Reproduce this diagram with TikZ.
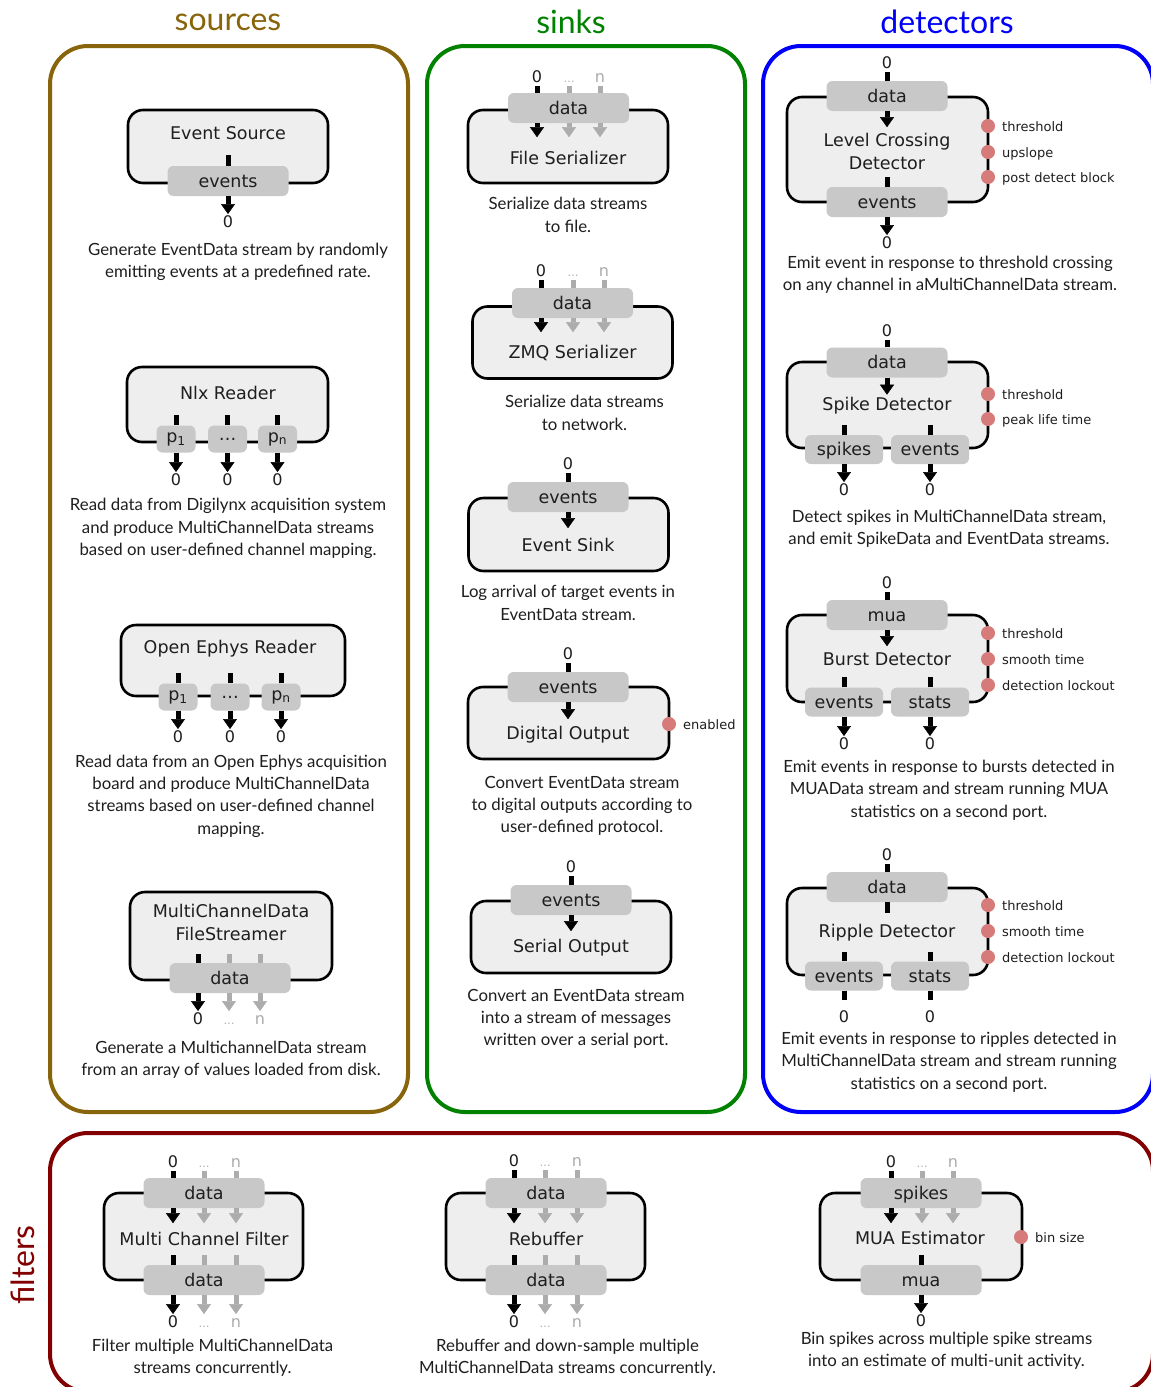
\documentclass[tikz,border=0pt]{standalone}
\usepackage{fontspec}
\usetikzlibrary{arrows.meta}
\newfontfamily\fDejaVu{DejaVu Sans}
\newfontfamily\fLato{Lato}
\newcommand\fLbl{\fDejaVu\fontsize{17.5}{23}\selectfont}
\newcommand\fPrm{\fDejaVu\fontsize{13}{15}\selectfont}
\newcommand\fNum{\fDejaVu\fontsize{16}{18}\selectfont}
\newcommand\fDots{\fDejaVu\fontsize{11}{12}\selectfont}
\newcommand\fDesc{\fLato\fontsize{16.8}{22.3}\selectfont}
\newcommand\fTtl{\fLato\fontsize{32}{36}\selectfont}
\definecolor{csrc}{RGB}{136,100,10}
\definecolor{csnk}{RGB}{0,130,0}
\definecolor{cdet}{RGB}{0,0,250}
\definecolor{cflt}{RGB}{130,0,0}
\definecolor{ink}{RGB}{30,30,30}
\definecolor{ghost}{RGB}{172,172,172}
\definecolor{blockfill}{RGB}{238,238,238}
\definecolor{portfill}{RGB}{200,200,200}
\definecolor{knob}{RGB}{214,122,122}
\tikzset{
  blk/.style={draw=black, line width=2.6pt, fill=blockfill, rounded corners=15pt, inner sep=0pt},
  lbl/.style={font=\fLbl, text=ink, inner sep=0pt, align=center},
  prt/.style={fill=portfill, rounded corners=6pt, inner sep=0pt, font=\fLbl, text=ink},
  wideport/.style={prt, minimum width=121pt, minimum height=30pt, text height=12.5pt, text depth=0pt},
  midport/.style={prt, minimum width=78pt, minimum height=29pt, text height=12.5pt, text depth=0pt},
  slimport/.style={prt, minimum width=39pt, minimum height=27pt},
  num/.style={font=\fNum, text=ink, inner sep=0pt, text height=11.5pt, text depth=0pt},
  numghost/.style={num, text=ghost},
  dotsghost/.style={num, font=\fDots, text=ghost},
  barb/.style={line width=5pt, draw=black},
  barg/.style={line width=5pt, draw=ghost},
  arrb/.style={line width=5pt, draw=black, -{Triangle[width=14pt,length=10pt,line width=0.5pt]}},
  arrg/.style={arrb, draw=ghost},
  tonum/.style={shorten >=2pt},
  knobdot/.style={circle, fill=knob, minimum size=14pt, inner sep=0pt},
  knoblbl/.style={font=\fPrm, text=ink, anchor=west, inner sep=0pt, text height=11pt, text depth=0pt},
  desc/.style={font=\fDesc, text=ink, align=center, inner sep=0pt},
  panel/.style={line width=4pt, rounded corners=38pt},
  ttl/.style={font=\fTtl, inner sep=0pt},
}
\begin{document}
\begin{tikzpicture}[x=1pt,y=-1pt]
\useasboundingbox (0,0) rectangle (1151,1387);
\fill[white] (0,0) rectangle (1151,1387);

% ---------- group frames and headings ----------
\draw[panel, draw=csrc] (50,46) rectangle (408,1112);
\draw[panel, draw=csnk] (427,46) rectangle (745,1112);
\draw[panel, draw=cdet] (763,46) rectangle (1153,1112);
\draw[panel, draw=cflt] (50,1133) rectangle (1153,1392);
\node[ttl, text=csrc] (t-src) at (228,22) {sources};
\node[ttl, text=csnk] (t-snk) at (571,22) {sinks};
\node[ttl, text=cdet] (t-det) at (947,22) {detectors};
\node[ttl, text=cflt, rotate=90] (t-flt) at (23,1265) {filters};

% ================= sources =================
% Event Source
\node[blk, minimum width=200pt, minimum height=73pt] (es) at (228,146.5) {};
\node[lbl] (es-l) at (228,133) {Event Source};
\node[wideport] (es-p) at (228,181) {events};
\node[num] (es-o) at (228,222) {0};
\draw[barb] (es-p.north) -- ++(0,-11);
\draw[arrb, tonum] (es-p) -- (es-o);
\node[desc] (es-d) at (238,262) {Generate EventData stream by randomly\\emitting events at a predefined rate.};

% Nlx Reader
\node[blk, minimum width=201pt, minimum height=75pt] (nlx) at (227.5,404.5) {};
\node[lbl] (nlx-l) at (228,393) {Nlx Reader};
\node[slimport] (nlx-p1) at (176,439) {p\textsubscript{1}};
\node[slimport] (nlx-p2) at (227.5,439) {…};
\node[slimport] (nlx-p3) at (277.5,439) {p\textsubscript{n}};
\node[num] (nlx-o1) at (176,480) {0};
\node[num] (nlx-o2) at (227.5,480) {0};
\node[num] (nlx-o3) at (277.5,480) {0};
\foreach \i in {1,2,3} {
  \draw[barb] (nlx-p\i.north) -- ++(0,-10);
  \draw[arrb, tonum] (nlx-p\i) -- (nlx-o\i);
}
\node[desc] (nlx-d) at (228,528.5) {Read data from Digilynx acquisition system\\and produce MultiChannelData streams\\based on user-defined channel mapping.};

% Open Ephys Reader
\node[blk, minimum width=224pt, minimum height=71pt] (oe) at (233,660.5) {};
\node[lbl] (oe-l) at (230,649) {Open Ephys Reader};
\node[slimport] (oe-p1) at (178,697) {p\textsubscript{1}};
\node[slimport] (oe-p2) at (230,697) {…};
\node[slimport] (oe-p3) at (281,697) {p\textsubscript{n}};
\node[num] (oe-o1) at (178,737) {0};
\node[num] (oe-o2) at (230,737) {0};
\node[num] (oe-o3) at (281,737) {0};
\foreach \i in {1,2,3} {
  \draw[barb] (oe-p\i.north) -- ++(0,-10);
  \draw[arrb, tonum] (oe-p\i) -- (oe-o\i);
}
\node[desc] (oe-d) at (231,796) {Read data from an Open Ephys acquisition\\board and produce MultiChannelData\\streams based on user-defined channel\\mapping.};

% MultiChannelData FileStreamer
\node[blk, minimum width=202pt, minimum height=88pt] (fs) at (231,936) {};
\node[lbl] (fs-l) at (231,922.5) {MultiChannelData\\FileStreamer};
\node[wideport] (fs-p) at (230,978) {data};
\node[num] (fs-o0) at (198,1019) {0};
\node[dotsghost] (fs-o1) at (229,1019) {…};
\node[numghost] (fs-o2) at (260,1019) {n};
\draw[barb] (fs-p.north -| fs-o0) -- ++(0,-9);
\draw[barg] (fs-p.north -| fs-o1) -- ++(0,-9);
\draw[barg] (fs-p.north -| fs-o2) -- ++(0,-9);
\draw[arrb, tonum] (fs-p.south -| fs-o0) -- (fs-o0.north);
\draw[arrg, tonum] (fs-p.south -| fs-o1) -- (fs-o1.north);
\draw[arrg, tonum] (fs-p.south -| fs-o2) -- (fs-o2.north);
\node[desc] (fs-d) at (231,1060) {Generate a MultichannelData stream\\from an array of values loaded from disk.};

% ================= sinks =================
% File Serializer
\node[blk, minimum width=200pt, minimum height=73pt] (fsz) at (568,146.5) {};
\node[lbl] (fsz-l) at (568,158) {File Serializer};
\node[wideport] (fsz-p) at (568.5,108) {data};
\node[num] (fsz-i0) at (537,77) {0};
\node[dotsghost] (fsz-i1) at (569,77) {…};
\node[numghost] (fsz-i2) at (600,77) {n};
\draw[barb] ([yshift=-3pt]fsz-i0.south) -- (fsz-i0 |- fsz-p.north);
\draw[barg] ([yshift=-3pt]fsz-i1.south) -- (fsz-i1 |- fsz-p.north);
\draw[barg] ([yshift=-3pt]fsz-i2.south) -- (fsz-i2 |- fsz-p.north);
\draw[arrb] (fsz-p.south -| fsz-i0) -- ++(0,14);
\draw[arrg] (fsz-p.south -| fsz-i1) -- ++(0,14);
\draw[arrg] (fsz-p.south -| fsz-i2) -- ++(0,14);
\node[desc] (fsz-d) at (568,215) {Serialize data streams\\to file.};

% ZMQ Serializer
\node[blk, minimum width=200pt, minimum height=72pt] (zmq) at (572.5,342.5) {};
\node[lbl] (zmq-l) at (572.5,353) {ZMQ Serializer};
\node[wideport] (zmq-p) at (572.5,303) {data};
\node[num] (zmq-i0) at (541,271) {0};
\node[dotsghost] (zmq-i1) at (573,271) {…};
\node[numghost] (zmq-i2) at (604,271) {n};
\draw[barb] ([yshift=-3pt]zmq-i0.south) -- (zmq-i0 |- zmq-p.north);
\draw[barg] ([yshift=-3pt]zmq-i1.south) -- (zmq-i1 |- zmq-p.north);
\draw[barg] ([yshift=-3pt]zmq-i2.south) -- (zmq-i2 |- zmq-p.north);
\draw[arrb] (zmq-p.south -| zmq-i0) -- ++(0,14);
\draw[arrg] (zmq-p.south -| zmq-i1) -- ++(0,14);
\draw[arrg] (zmq-p.south -| zmq-i2) -- ++(0,14);
\node[desc] (zmq-d) at (584.5,413) {Serialize data streams\\to network.};

% Event Sink
\node[blk, minimum width=200pt, minimum height=73pt] (esk) at (568.5,534.5) {};
\node[lbl] (esk-l) at (568,545) {Event Sink};
\node[wideport] (esk-p) at (568,497) {events};
\node[num] (esk-i) at (568,464) {0};
\draw[barb] ([yshift=-3pt]esk-i.south) -- (esk-p.north);
\draw[arrb] (esk-p.south) -- ++(0,16);
\node[desc] (esk-d) at (568,603) {Log arrival of target events in\\EventData stream.};

% Digital Output
\node[blk, minimum width=201pt, minimum height=72pt] (dout) at (568.5,723) {};
\node[lbl] (dout-l) at (568,735) {Digital Output};
\node[wideport] (dout-p) at (568,687) {events};
\node[num] (dout-i) at (568,654) {0};
\draw[barb] ([yshift=-3pt]dout-i.south) -- (dout-p.north);
\draw[arrb] (dout-p.south) -- ++(0,17);
\node[knobdot] (dout-k) at (669,724) {};
\node[knoblbl] (dout-kl) at (683,724) {enabled};
\node[desc] (dout-d) at (582,806) {Convert EventData stream\\to digital outputs according to\\user-defined protocol.};

% Serial Output
\node[blk, minimum width=200pt, minimum height=72pt] (sout) at (571,937) {};
\node[lbl] (sout-l) at (571,948) {Serial Output};
\node[wideport] (sout-p) at (571,900) {events};
\node[num] (sout-i) at (571,867) {0};
\draw[barb] ([yshift=-3pt]sout-i.south) -- (sout-p.north);
\draw[arrb] (sout-p.south) -- ++(0,16);
\node[desc] (sout-d) at (576,1019) {Convert an EventData stream\\into a stream of messages\\written over a serial port.};

% ================= detectors =================
% Level Crossing Detector
\node[blk, minimum width=201pt, minimum height=105pt] (lcd) at (887.5,149.5) {};
\node[lbl] (lcd-l) at (887,151.5) {Level Crossing\\Detector};
\node[wideport] (lcd-pi) at (887,96) {data};
\node[wideport] (lcd-po) at (887,202) {events};
\node[num] (lcd-i) at (887,63) {0};
\node[num] (lcd-o) at (887,243) {0};
\draw[barb] ([yshift=-3pt]lcd-i.south) -- (lcd-pi.north);
\draw[arrb] (lcd-pi.south) -- ++(0,16);
\draw[barb] (lcd-po.north) -- ++(0,-10);
\draw[arrb, tonum] (lcd-po) -- (lcd-o);
\node[knobdot] (lcd-k1) at (988,126) {};
\node[knobdot] (lcd-k2) at (988,152) {};
\node[knobdot] (lcd-k3) at (988,177) {};
\node[knoblbl] (lcd-k1l) at (1002,126) {threshold};
\node[knoblbl] (lcd-k2l) at (1002,152) {upslope};
\node[knoblbl] (lcd-k3l) at (1002,177) {post detect block};
\node[desc] (lcd-d) at (950,274.5) {Emit event in response to threshold crossing\\on any channel in aMultiChannelData stream.};

% Spike Detector
\node[blk, minimum width=201pt, minimum height=86pt] (sd) at (887.5,405) {};
\node[lbl] (sd-l) at (887,406) {Spike Detector};
\node[wideport] (sd-pi) at (887,362.5) {data};
\node[num] (sd-i) at (887,331) {0};
\node[midport] (sd-p1) at (844,449.5) {spikes};
\node[midport] (sd-p2) at (930,449.5) {events};
\node[num] (sd-o1) at (844,490) {0};
\node[num] (sd-o2) at (930,490) {0};
\draw[barb] ([yshift=-3pt]sd-i.south) -- (sd-pi.north);
\draw[arrb] (sd-pi.south) -- ++(0,17);
\foreach \i in {1,2} {
  \draw[barb] (sd-p\i.north) -- ++(0,-10);
  \draw[arrb, tonum] (sd-p\i) -- (sd-o\i);
}
\node[knobdot] (sd-k1) at (988,394) {};
\node[knobdot] (sd-k2) at (988,419) {};
\node[knoblbl] (sd-k1l) at (1002,394) {threshold};
\node[knoblbl] (sd-k2l) at (1002,419) {peak life time};
\node[desc] (sd-d) at (949,529) {Detect spikes in MultiChannelData stream,\\and emit SpikeData and EventData streams.};

% Burst Detector
\node[blk, minimum width=201pt, minimum height=87pt] (bd) at (887.5,658.5) {};
\node[lbl] (bd-l) at (887,659) {Burst Detector};
\node[wideport] (bd-pi) at (887,615) {mua};
\node[num] (bd-i) at (887,583) {0};
\node[midport] (bd-p1) at (844,702) {events};
\node[midport] (bd-p2) at (930,702) {stats};
\node[num] (bd-o1) at (844,744) {0};
\node[num] (bd-o2) at (930,744) {0};
\draw[barb] ([yshift=-3pt]bd-i.south) -- (bd-pi.north);
\draw[arrb] (bd-pi.south) -- ++(0,16);
\foreach \i in {1,2} {
  \draw[barb] (bd-p\i.north) -- ++(0,-10);
  \draw[arrb, tonum] (bd-p\i) -- (bd-o\i);
}
\node[knobdot] (bd-k1) at (988,633) {};
\node[knobdot] (bd-k2) at (988,659) {};
\node[knobdot] (bd-k3) at (988,685) {};
\node[knoblbl] (bd-k1l) at (1002,633) {threshold};
\node[knoblbl] (bd-k2l) at (1002,659) {smooth time};
\node[knoblbl] (bd-k3l) at (1002,685) {detection lockout};
\node[desc] (bd-d) at (949,790) {Emit events in response to bursts detected in\\MUAData stream and stream running MUA\\statistics on a second port.};

% Ripple Detector
\node[blk, minimum width=201pt, minimum height=87pt] (rd) at (887.5,931.5) {};
\node[lbl] (rd-l) at (887,933) {Ripple Detector};
\node[wideport] (rd-pi) at (887,887) {data};
\node[num] (rd-i) at (887,855) {0};
\node[midport] (rd-p1) at (844,976) {events};
\node[midport] (rd-p2) at (930,976) {stats};
\node[num] (rd-o1) at (844,1017) {0};
\node[num] (rd-o2) at (930,1017) {0};
\draw[barb] ([yshift=-3pt]rd-i.south) -- (rd-pi.north);
\draw[barb] (rd-pi.south) -- ++(0,11);
\foreach \i in {1,2} {
  \draw[barb] (rd-p\i.north) -- ++(0,-9);
  \draw[barb] (rd-p\i.south) -- ++(0,9);
}
\node[knobdot] (rd-k1) at (988,905) {};
\node[knobdot] (rd-k2) at (988,931) {};
\node[knobdot] (rd-k3) at (988,957) {};
\node[knoblbl] (rd-k1l) at (1002,905) {threshold};
\node[knoblbl] (rd-k2l) at (1002,931) {smooth time};
\node[knoblbl] (rd-k3l) at (1002,957) {detection lockout};
\node[desc] (rd-d) at (949,1062) {Emit events in response to ripples detected in\\MultiChannelData stream and stream running\\statistics on a second port.};

% ================= filters =================
% Multi Channel Filter
\node[blk, minimum width=199pt, minimum height=87pt] (mcf) at (203.5,1236.5) {};
\node[lbl] (mcf-l) at (204,1239) {Multi Channel Filter};
\node[wideport] (mcf-pi) at (204,1193) {data};
\node[wideport] (mcf-po) at (204,1280) {data};
\node[num] (mcf-i0) at (173,1162) {0};
\node[dotsghost] (mcf-i1) at (204,1162) {…};
\node[numghost] (mcf-i2) at (236,1162) {n};
\node[num] (mcf-o0) at (173,1322) {0};
\node[dotsghost] (mcf-o1) at (204,1322) {…};
\node[numghost] (mcf-o2) at (236,1322) {n};
\draw[barb] ([yshift=-3pt]mcf-i0.south) -- (mcf-i0 |- mcf-pi.north);
\draw[barg] ([yshift=-3pt]mcf-i1.south) -- (mcf-i1 |- mcf-pi.north);
\draw[barg] ([yshift=-3pt]mcf-i2.south) -- (mcf-i2 |- mcf-pi.north);
\draw[arrb] (mcf-pi.south -| mcf-i0) -- ++(0,15);
\draw[arrg] (mcf-pi.south -| mcf-i1) -- ++(0,15);
\draw[arrg] (mcf-pi.south -| mcf-i2) -- ++(0,15);
\draw[barb] (mcf-po.north -| mcf-o0) -- ++(0,-10);
\draw[barg] (mcf-po.north -| mcf-o1) -- ++(0,-10);
\draw[barg] (mcf-po.north -| mcf-o2) -- ++(0,-10);
\draw[arrb, tonum] (mcf-po.south -| mcf-o0) -- (mcf-o0.north);
\draw[arrg, tonum] (mcf-po.south -| mcf-o1) -- (mcf-o1.north);
\draw[arrg, tonum] (mcf-po.south -| mcf-o2) -- (mcf-o2.north);
\node[desc] (mcf-d) at (212.5,1358) {Filter multiple MultiChannelData\\streams concurrently.};

% Rebuffer
\node[blk, minimum width=199pt, minimum height=87pt] (rb) at (545.5,1236.5) {};
\node[lbl] (rb-l) at (546,1239) {Rebuffer};
\node[wideport] (rb-pi) at (546,1193) {data};
\node[wideport] (rb-po) at (546,1280) {data};
\node[num] (rb-i0) at (514,1161) {0};
\node[dotsghost] (rb-i1) at (545,1161) {…};
\node[numghost] (rb-i2) at (577,1161) {n};
\node[num] (rb-o0) at (514,1322) {0};
\node[dotsghost] (rb-o1) at (545,1322) {…};
\node[numghost] (rb-o2) at (577,1322) {n};
\draw[barb] ([yshift=-3pt]rb-i0.south) -- (rb-i0 |- rb-pi.north);
\draw[barg] ([yshift=-3pt]rb-i1.south) -- (rb-i1 |- rb-pi.north);
\draw[barg] ([yshift=-3pt]rb-i2.south) -- (rb-i2 |- rb-pi.north);
\draw[arrb] (rb-pi.south -| rb-i0) -- ++(0,15);
\draw[arrg] (rb-pi.south -| rb-i1) -- ++(0,15);
\draw[arrg] (rb-pi.south -| rb-i2) -- ++(0,15);
\draw[barb] (rb-po.north -| rb-o0) -- ++(0,-10);
\draw[barg] (rb-po.north -| rb-o1) -- ++(0,-10);
\draw[barg] (rb-po.north -| rb-o2) -- ++(0,-10);
\draw[arrb, tonum] (rb-po.south -| rb-o0) -- (rb-o0.north);
\draw[arrg, tonum] (rb-po.south -| rb-o1) -- (rb-o1.north);
\draw[arrg, tonum] (rb-po.south -| rb-o2) -- (rb-o2.north);
\node[desc] (rb-d) at (567.5,1358) {Rebuffer and down-sample multiple\\MultiChannelData streams concurrently.};

% MUA Estimator
\node[blk, minimum width=202pt, minimum height=87pt] (mua) at (921,1236.5) {};
\node[lbl] (mua-l) at (920,1238) {MUA Estimator};
\node[wideport] (mua-pi) at (921,1193) {spikes};
\node[wideport] (mua-po) at (921,1280) {mua};
\node[num] (mua-i0) at (891,1162) {0};
\node[dotsghost] (mua-i1) at (922,1162) {…};
\node[numghost] (mua-i2) at (953,1162) {n};
\node[num] (mua-o) at (921,1321) {0};
\draw[barb] ([yshift=-3pt]mua-i0.south) -- (mua-i0 |- mua-pi.north);
\draw[barg] ([yshift=-3pt]mua-i1.south) -- (mua-i1 |- mua-pi.north);
\draw[barg] ([yshift=-3pt]mua-i2.south) -- (mua-i2 |- mua-pi.north);
\draw[arrb] (mua-pi.south -| mua-i0) -- ++(0,15);
\draw[arrg] (mua-pi.south -| mua-i1) -- ++(0,15);
\draw[arrg] (mua-pi.south -| mua-i2) -- ++(0,15);
\draw[barb] (mua-po.north) -- ++(0,-10);
\draw[arrb, tonum] (mua-po) -- (mua-o);
\node[knobdot] (mua-k) at (1021,1237) {};
\node[knoblbl] (mua-kl) at (1035,1237) {bin size};
\node[desc] (mua-d) at (946.5,1351) {Bin spikes across multiple spike streams\\into an estimate of multi-unit activity.};
\end{tikzpicture}
\end{document}
